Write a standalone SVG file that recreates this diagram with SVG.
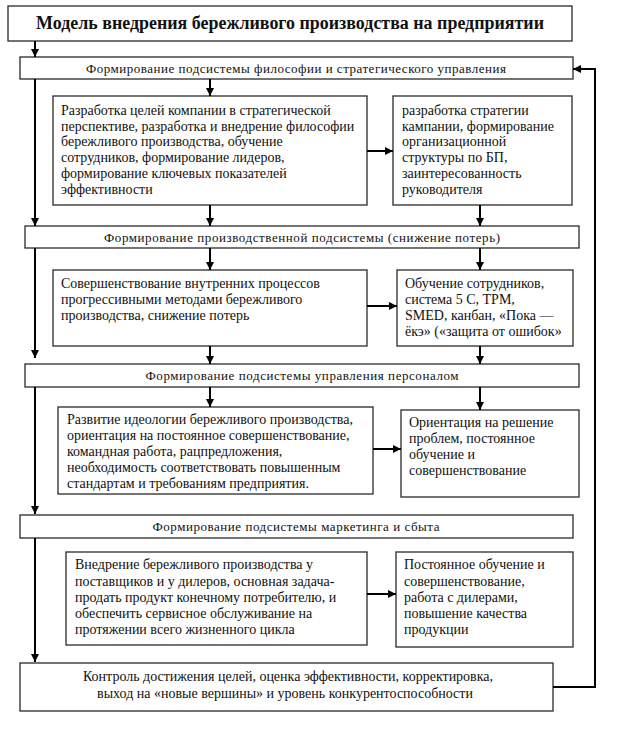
<svg xmlns="http://www.w3.org/2000/svg" width="638" height="733" viewBox="0 0 638 733">
<style>
.box{fill:#fff;stroke:#2a2a2a;stroke-width:1.3}
.t{font-family:"Liberation Serif","Times New Roman",serif;font-size:14px;fill:#111}
.h{font-family:"Liberation Serif","Times New Roman",serif;font-size:13px;fill:#111;text-anchor:middle}
.title{font-family:"Liberation Serif","Times New Roman",serif;font-size:18px;font-weight:bold;fill:#111;text-anchor:middle}
.c{stroke:#000;stroke-width:2;fill:none}
</style>
<defs>
<marker id="ah" viewBox="0 0 10 10" refX="10" refY="5" markerWidth="9" markerHeight="8" markerUnits="userSpaceOnUse" orient="auto">
<path d="M0,0 L10,5 L0,10 z" fill="#000"/>
</marker>
</defs>
<rect width="638" height="733" fill="#fff"/>

<g id="title">
<rect class="box" x="8" y="6" width="564" height="35"/>
<text class="title" x="290" y="29" textLength="508" lengthAdjust="spacingAndGlyphs">Модель внедрения бережливого производства на предприятии</text>
</g>

<g id="h1">
<rect class="box" x="20" y="57" width="553" height="22"/>
<text class="h" x="296" y="73" textLength="420">Формирование подсистемы философии и стратегического управления</text>
</g>

<g id="a1">
<rect class="box" x="53" y="96" width="314" height="109"/>
<text class="t" x="61" y="115">Разработка целей компании в стратегической</text>
<text class="t" x="61" y="131">перспективе, разработка и внедрение философии</text>
<text class="t" x="61" y="146">бережливого производства, обучение</text>
<text class="t" x="61" y="162">сотрудников, формирование лидеров,</text>
<text class="t" x="61" y="178">формирование ключевых показателей</text>
<text class="t" x="61" y="194">эффективности</text>
</g>

<g id="b1">
<rect class="box" x="393" y="96" width="179" height="109"/>
<text class="t" x="402" y="115">разработка стратегии</text>
<text class="t" x="402" y="131">кампании, формирование</text>
<text class="t" x="402" y="146">организационной</text>
<text class="t" x="402" y="162">структуры по БП,</text>
<text class="t" x="402" y="178">заинтересованность</text>
<text class="t" x="402" y="194">руководителя</text>
</g>

<g id="h2">
<rect class="box" x="25" y="226" width="554" height="22"/>
<text class="h" x="302" y="242" textLength="396">Формирование производственной  подсистемы (снижение потерь)</text>
</g>

<g id="a2">
<rect class="box" x="53" y="270" width="314" height="76"/>
<text class="t" x="61" y="288">Совершенствование внутренних процессов</text>
<text class="t" x="61" y="304">прогрессивными методами бережливого</text>
<text class="t" x="61" y="320">производства, снижение потерь</text>
</g>

<g id="b2">
<rect class="box" x="397" y="270" width="176" height="76"/>
<text class="t" x="405" y="288">Обучение сотрудников,</text>
<text class="t" x="405" y="304">система 5 С,  TPM,</text>
<text class="t" x="405" y="320">SMED, канбан, «Пока —</text>
<text class="t" x="405" y="336">ёкэ» («защита от ошибок»</text>
</g>

<g id="h3">
<rect class="box" x="25" y="364" width="554" height="23"/>
<text class="h" x="302" y="380" textLength="313">Формирование подсистемы управления персоналом</text>
</g>

<g id="a3">
<rect class="box" x="58" y="407" width="315" height="87"/>
<text class="t" x="67" y="424">Развитие идеологии бережливого производства,</text>
<text class="t" x="67" y="440">ориентация на постоянное совершенствование,</text>
<text class="t" x="67" y="456">командная работа, рацпредложения,</text>
<text class="t" x="67" y="472">необходимость соответствовать повышенным</text>
<text class="t" x="67" y="488">стандартам и требованиям предприятия.</text>
</g>

<g id="b3">
<rect class="box" x="401" y="410" width="178" height="87"/>
<text class="t" x="409" y="427">Ориентация на решение</text>
<text class="t" x="409" y="443">проблем, постоянное</text>
<text class="t" x="409" y="459">обучение и</text>
<text class="t" x="409" y="475">совершенствование</text>
</g>

<g id="h4">
<rect class="box" x="20" y="515" width="553" height="23"/>
<text class="h" x="296" y="531" textLength="287">Формирование подсистемы маркетинга и сбыта</text>
</g>

<g id="a4">
<rect class="box" x="66" y="552" width="301" height="93"/>
<text class="t" x="75" y="569">Внедрение бережливого производства у</text>
<text class="t" x="75" y="586">поставщиков и у дилеров, основная задача-</text>
<text class="t" x="75" y="602">продать  продукт конечному потребителю, и</text>
<text class="t" x="75" y="618">обеспечить сервисное обслуживание на</text>
<text class="t" x="75" y="634">протяжении всего жизненного цикла</text>
</g>

<g id="b4">
<rect class="box" x="396" y="552" width="177" height="95"/>
<text class="t" x="404" y="569">Постоянное обучение и</text>
<text class="t" x="404" y="586">совершенствование,</text>
<text class="t" x="404" y="602">работа с дилерами,</text>
<text class="t" x="404" y="618">повышение качества</text>
<text class="t" x="404" y="634">продукции</text>
</g>

<g id="control">
<rect class="box" x="20" y="663" width="533" height="48"/>
<text class="t" x="288" y="681" text-anchor="middle">Контроль достижения целей, оценка эффективности, корректировка,</text>
<text class="t" x="285" y="698" text-anchor="middle">выход на «новые вершины» и уровень конкурентоспособности</text>
</g>

<g id="connectors">
<line class="c" x1="35" y1="41" x2="35" y2="57" marker-end="url(#ah)"/>
<line class="c" x1="35" y1="79" x2="35" y2="226" marker-end="url(#ah)"/>
<line class="c" x1="35" y1="248" x2="35" y2="358" marker-end="url(#ah)"/>
<line class="c" x1="35" y1="387" x2="35" y2="514" marker-end="url(#ah)"/>
<line class="c" x1="35" y1="538" x2="35" y2="662" marker-end="url(#ah)"/>
<line class="c" x1="210" y1="79" x2="210" y2="96" marker-end="url(#ah)"/>
<line class="c" x1="367" y1="151" x2="393" y2="151" marker-end="url(#ah)"/>
<line class="c" x1="210" y1="205" x2="210" y2="226" marker-end="url(#ah)"/>
<line class="c" x1="480" y1="205" x2="480" y2="226" marker-end="url(#ah)"/>
<line class="c" x1="210" y1="248" x2="210" y2="270" marker-end="url(#ah)"/>
<line class="c" x1="480" y1="248" x2="480" y2="270" marker-end="url(#ah)"/>
<line class="c" x1="367" y1="306" x2="397" y2="306" marker-end="url(#ah)"/>
<line class="c" x1="210" y1="346" x2="210" y2="364" marker-end="url(#ah)"/>
<line class="c" x1="480" y1="346" x2="480" y2="364" marker-end="url(#ah)"/>
<line class="c" x1="210" y1="387" x2="210" y2="407" marker-end="url(#ah)"/>
<line class="c" x1="480" y1="387" x2="480" y2="410" marker-end="url(#ah)"/>
<line class="c" x1="373" y1="449" x2="401" y2="449" marker-end="url(#ah)"/>
<line class="c" x1="367" y1="594" x2="396" y2="594" marker-end="url(#ah)"/>
<polyline class="c" points="553,687 595,687 595,69 573,69" marker-end="url(#ah)"/>
</g>
</svg>
